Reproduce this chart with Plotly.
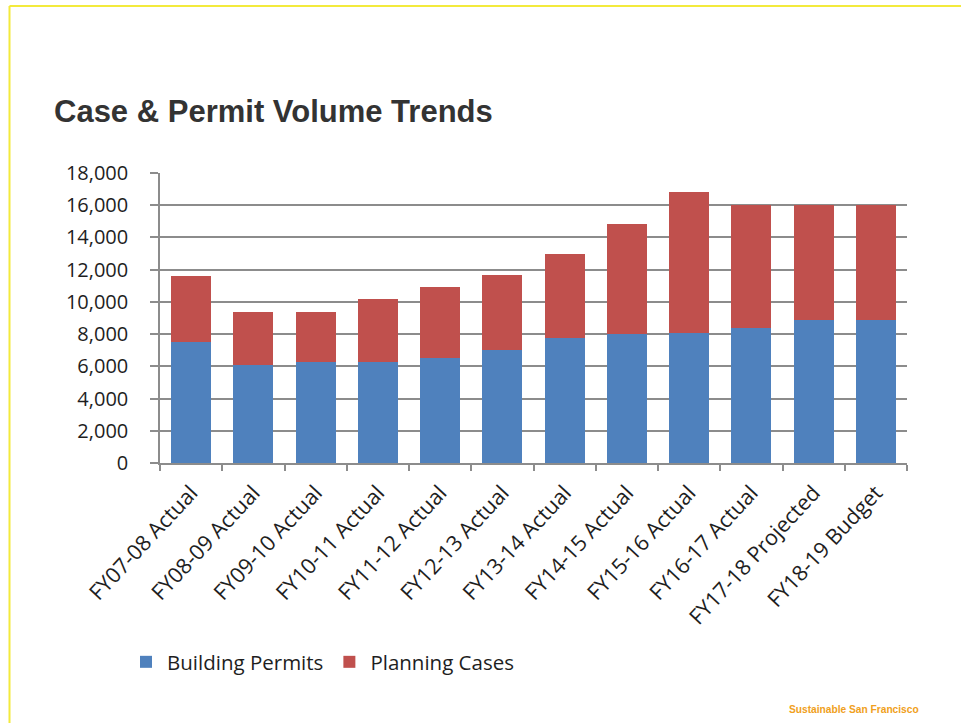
import plotly.graph_objects as go

categories = ["FY07-08 Actual", "FY08-09 Actual", "FY09-10 Actual", "FY10-11 Actual",
              "FY11-12 Actual", "FY12-13 Actual", "FY13-14 Actual", "FY14-15 Actual",
              "FY15-16 Actual", "FY16-17 Actual", "FY17-18 Projected", "FY18-19 Budget"]
building_permits = [7500, 6100, 6250, 6250, 6500, 7000, 7750, 8000, 8100, 8400, 8900, 8900]
planning_cases = [4100, 3250, 3100, 3950, 4450, 4700, 5200, 6850, 8700, 7600, 7100, 7100]
y_ticks = [0, 2000, 4000, 6000, 8000, 10000, 12000, 14000, 16000, 18000]

W, H = 961, 723
L, R, T, B = 160, 907, 173, 463

def px_x(px):
    return (px - L) / (R - L)

def px_y(py):
    return (B - py) / (B - T)

fig = go.Figure()
fig.add_trace(go.Bar(x=categories, y=building_permits, name="Building Permits",
                     marker=dict(color="#4f81bd", line=dict(width=0))))
fig.add_trace(go.Bar(x=categories, y=planning_cases, name="Planning Cases",
                     marker=dict(color="#c0504d", line=dict(width=0))))

grid_col = "#8c8c8c"
fig.update_layout(
    width=W, height=H,
    barmode="stack", bargap=0.355,
    paper_bgcolor="white", plot_bgcolor="white",
    margin=dict(l=L, r=W - R, t=T, b=H - B, pad=0),
    font=dict(family="Open Sans, sans-serif", color="#1e1e1e", size=20),
    title=dict(text="<b>Case & Permit Volume Trends</b>",
               font=dict(family="Liberation Sans, Arial, sans-serif", size=31, color="#333333"),
               xref="container", yref="container", x=54 / W, xanchor="left",
               y=1 - 111.5 / H, yanchor="middle"),
    xaxis=dict(type="category", showline=True, linecolor=grid_col, linewidth=1.5,
               ticks="outside", tickson="boundaries", ticklen=6, tickcolor=grid_col,
               tickwidth=1.5, tickangle=-47, showgrid=False, ticklabelstandoff=7,
               tickfont=dict(size=21.5, color="#1e1e1e"), fixedrange=True),
    yaxis=dict(range=[0, 18000], tickvals=y_ticks, tickformat=",", showline=True,
               linecolor=grid_col, linewidth=1.5, ticks="outside", ticklen=8,
               tickcolor=grid_col, tickwidth=1.5, showgrid=True, gridcolor=grid_col,
               gridwidth=1.5, zeroline=False, ticklabelstandoff=18,
               tickfont=dict(size=20, color="#1e1e1e")),
    legend=dict(orientation="h", x=px_x(125), xanchor="left", y=px_y(662), yanchor="middle",
                font=dict(size=20.5, color="#1e1e1e"), bgcolor="rgba(0,0,0,0)",
                traceorder="normal", itemwidth=32),
    showlegend=True,
)

# yellow frame
frame = "#f3ea3c"
fig.add_shape(type="line", xref="paper", yref="paper",
              x0=px_x(9.5), x1=px_x(975), y0=px_y(6), y1=px_y(6),
              line=dict(color=frame, width=2))
fig.add_shape(type="line", xref="paper", yref="paper",
              x0=px_x(9.5), x1=px_x(9.5), y0=px_y(6), y1=px_y(740),
              line=dict(color=frame, width=2))

fig.add_annotation(text="<b>Sustainable San Francisco</b>", xref="paper", yref="paper",
                   x=px_x(921), xanchor="right", y=px_y(709), yanchor="middle",
                   showarrow=False,
                   font=dict(family="Liberation Sans, Arial, sans-serif", size=10.2, color="#f0a020"))

fig.write_html("out.html", config={"displayModeBar": False},
               post_script="document.body.style.margin='0';document.body.style.overflow='hidden';")
